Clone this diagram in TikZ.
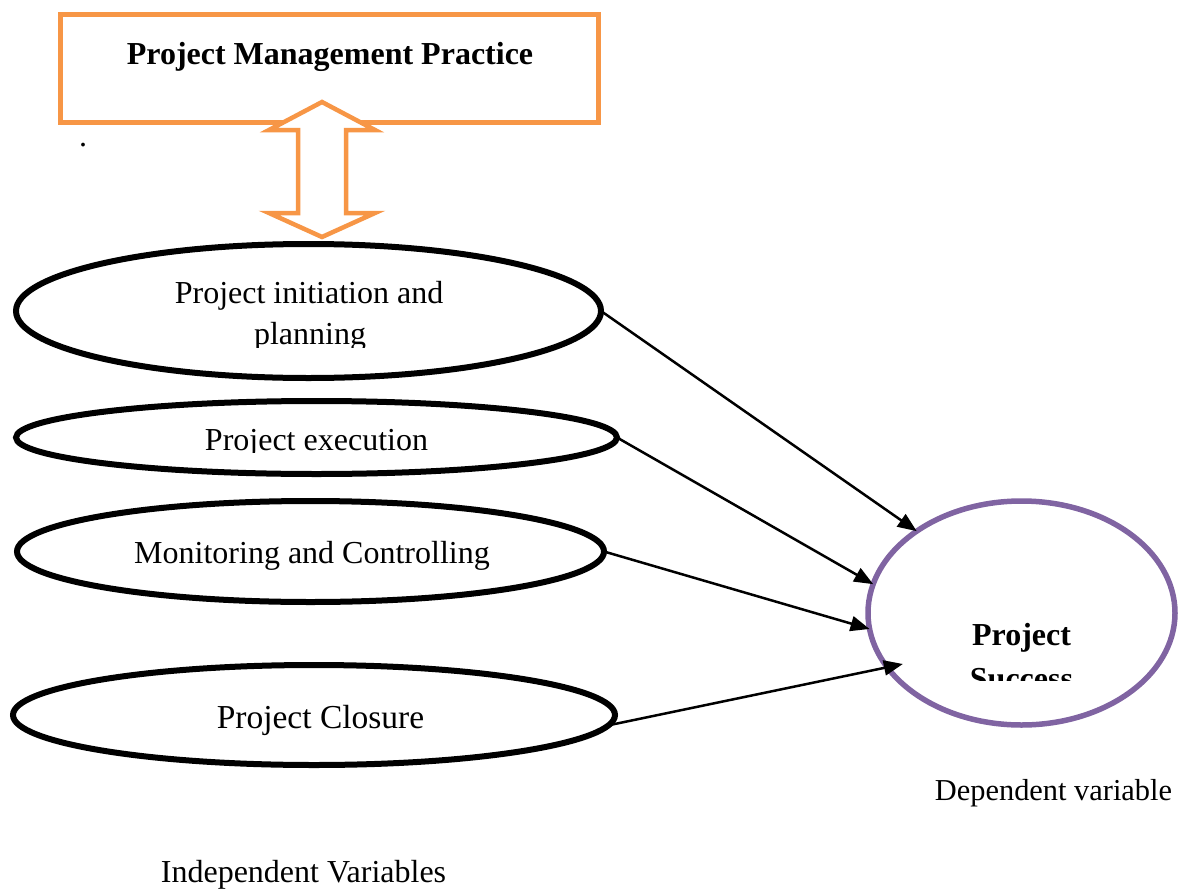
\documentclass[tikz,border=0pt]{standalone}
\usepackage{fontspec}
\setmainfont{Liberation Serif}
\usetikzlibrary{shapes.geometric,arrows.meta}
\definecolor{accentorange}{HTML}{F79646}
\definecolor{accentpurple}{HTML}{8064A2}
\begin{document}
\begin{tikzpicture}[x=1pt,y=-1pt,
  stage/.style={draw=black,line width=6pt,ellipse,inner sep=0pt,outer sep=0pt},
  label/.style={font=\fontsize{32}{40}\selectfont,inner sep=0pt,anchor=base},
  boldlabel/.style={label,font=\bfseries\fontsize{32}{40}\selectfont},
  link/.style={line width=2.5pt,-{Triangle[length=19pt,width=15pt]}},
]
\useasboundingbox (0,0) rectangle (1183,891);

% practice box and the two-way arrow below it
\node[draw=accentorange,line width=5pt,minimum width=538pt,minimum height=108pt,inner sep=0pt] (pmp) at (329.5,68.5) {};
\node[boldlabel] (pmptext) at (330,64) {Project Management Practice};
\node[label] (dot) at (83,146) {.};
\draw[accentorange,line width=4.5pt,fill=white,line join=miter]
  (322,102) -- (375,130) -- (346,130) -- (346,213) -- (375,213) -- (322,237)
  -- (269,213) -- (298,213) -- (298,130) -- (269,130) -- cycle;

% independent variables
\node[stage,minimum width=585pt,minimum height=134pt] (e1) at (308.5,311) {};
\node[stage,minimum width=601pt,minimum height=73pt] (e2) at (316.5,437.5) {};
\node[stage,minimum width=587pt,minimum height=101pt] (e3) at (310.5,551.5) {};
\node[stage,minimum width=602pt,minimum height=100pt] (e4) at (314,715) {};

\begin{scope}
  \clip (20,260) rectangle (600,347);
  \node[label] (t1a) at (309,303) {Project initiation and};
  \node[label] (t1b) at (310,344) {planning};
\end{scope}
\begin{scope}
  \clip (20,405) rectangle (600,452);
  \node[label] (t2) at (316.5,450) {Project execution};
\end{scope}
\node[label] (t3) at (312,563) {Monitoring and Controlling};
\node[label,font=\fontsize{33.5}{40}\selectfont] (t4) at (320.5,728) {Project Closure};

% dependent variable
\node[stage,draw=accentpurple,line width=5.5pt,minimum width=307pt,minimum height=224pt] (ps) at (1021.5,613) {};
\node[boldlabel] (pst1) at (1021.5,645) {Project};
\begin{scope}
  \clip (900,600) rectangle (1150,680);
  \node[boldlabel] (pst2) at (1021.5,689) {Success};
\end{scope}

\node[label,font=\fontsize{30.4}{40}\selectfont] (dep) at (1053.5,800) {Dependent variable};
\node[label] (indep) at (303.5,882) {Independent Variables};

% links
\draw[link] (e1.east) -- (ps.142.6);
\draw[link] (e2.east) -- (ps.169);
\draw[link] (e3.east) -- (ps.186.6);
\draw[link,shorten >=-16pt] (e4.-2) -- (ps.202.5);
\end{tikzpicture}
\end{document}
